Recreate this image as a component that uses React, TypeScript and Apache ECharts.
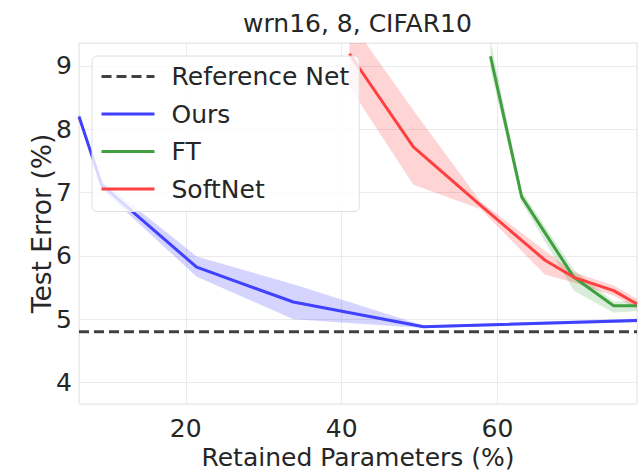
import React, { useEffect, useRef } from "react";
import * as echarts from "echarts";

// ---- data ----
const titleText = "wrn16, 8, CIFAR10";
const xAxisName = "Retained Parameters (%)";
const yAxisName = "Test Error (%)";
const legendNames = ["Reference Net", "Ours", "FT", "SoftNet"];

const refError = 4.8;

const oursX = [6.3, 9.2, 21.4, 33.8, 50.5, 77.9];
const oursY = [8.2, 7.12, 5.82, 5.27, 4.88, 4.98];
const oursLo = [8.15, 7.05, 5.67, 5.0, 4.86, 4.95];
const oursHi = [8.25, 7.19, 5.99, 5.55, 4.9, 5.01];

const ftX = [59.1, 63.1, 69.8, 74.9, 77.9];
const ftY = [9.15, 6.93, 5.66, 5.21, 5.21];
const ftLo = [8.95, 6.85, 5.45, 5.1, 5.13];
const ftHi = [9.4, 7.02, 5.78, 5.28, 5.29];

const softX = [41.0, 49.2, 57.8, 66.1, 69.8, 74.9, 77.9];
const softY = [9.19, 7.72, 6.8, 5.93, 5.66, 5.45, 5.24];
const softLo = [8.67, 7.12, 6.74, 5.7, 5.58, 5.37, 5.17];
const softHi = [9.72, 8.3, 6.86, 6.08, 5.74, 5.53, 5.32];

const yMin = 3.66;
const yMax = 9.36;

// ---- styling ----
const FONT = "DejaVu Sans";
const TXT = "#262626";
const BLUE = "rgba(64,64,255,1)";
const GREEN = "rgba(64,160,64,1)";
const RED = "rgba(255,64,64,1)";
const REF = "#404040";

function pairs(xs: number[], ys: number[]) {
  return xs.map((x, i) => [x, ys[i]]);
}

function band(key: string, xs: number[], lo: number[], hi: number[], fill: string) {
  const rows = xs.map((x, i) => [x, lo[i], hi[i]]);
  return {
    type: "custom",
    name: key + "-band",
    data: rows,
    silent: true,
    z: 1,
    encode: { x: 0, y: [1, 2] },
    renderItem: (params: any, api: any) => {
      if (params.dataIndex !== 0) return null;
      const upper = rows.map((r) => api.coord([r[0], r[2]]));
      const lower = rows.map((r) => api.coord([r[0], r[1]])).reverse();
      const cs = params.coordSys;
      return {
        type: "polygon",
        shape: { points: upper.concat(lower) },
        style: { fill: fill, stroke: "none" },
        clipPath: {
          type: "rect",
          shape: { x: cs.x, y: cs.y, width: cs.width, height: cs.height },
        },
      };
    },
  };
}

function line(name: string, xs: number[], ys: number[], color: string, extra: any = {}) {
  return {
    type: "line",
    name,
    data: pairs(xs, ys),
    symbol: "none",
    lineStyle: { color, width: 3, ...extra },
    itemStyle: { color },
    z: 3,
  };
}

export default function App() {
  const ref = useRef<HTMLDivElement>(null);
  useEffect(() => {
    if (!ref.current) return;
    const chart = echarts.init(ref.current, undefined, { renderer: "svg" });
    const allX = [...oursX, ...ftX, ...softX];
    const xMin = Math.min(...allX);
    const xMax = Math.max(...allX);
    chart.setOption({
      animation: false,
      backgroundColor: "#ffffff",
      textStyle: { fontFamily: FONT, color: TXT },
      title: {
        text: titleText,
        left: 243,
        top: 11,
        padding: 0,
        textStyle: { fontFamily: FONT, fontSize: 25, fontWeight: "normal", color: TXT },
      },
      grid: {
        left: 79,
        right: 4,
        top: 43,
        bottom: 69,
        show: true,
        borderColor: "#e4e4e4",
        borderWidth: 1,
        containLabel: false,
        outerBoundsMode: "none",
      },
      legend: {
        data: legendNames,
        orient: "vertical",
        left: 92,
        top: 56,
        itemWidth: 53,
        itemHeight: 24,
        itemGap: 12.5,
        padding: [8, 10, 10, 8],
        backgroundColor: "rgba(255,255,255,0.8)",
        borderColor: "#dedede",
        borderWidth: 1,
        borderRadius: 5,
        lineStyle: { width: 3 },
        itemStyle: { opacity: 0 },
        textStyle: { fontFamily: FONT, fontSize: 25, color: TXT, padding: [0, 0, 0, 12] },
        selectedMode: false,
      },
      xAxis: {
        type: "value",
        min: xMin,
        max: xMax,
        minInterval: 20,
        maxInterval: 20,
        name: xAxisName,
        nameLocation: "middle",
        nameGap: 41,
        nameMoveOverlap: false,
        nameTextStyle: { fontFamily: FONT, fontSize: 25, color: TXT },
        axisLine: { show: false },
        axisTick: { show: false },
        axisLabel: {
          fontFamily: FONT,
          fontSize: 25,
          color: TXT,
          margin: 12,
          showMinLabel: false,
          showMaxLabel: false,
        },
        splitLine: { show: true, lineStyle: { color: "#ebebeb", width: 1 } },
      },
      yAxis: {
        type: "value",
        min: yMin,
        max: yMax,
        minInterval: 1,
        maxInterval: 1,
        name: yAxisName,
        nameLocation: "middle",
        nameGap: 24,
        nameMoveOverlap: false,
        nameTextStyle: { fontFamily: FONT, fontSize: 26.5, color: TXT },
        axisLine: { show: false },
        axisTick: { show: false },
        axisLabel: {
          fontFamily: FONT,
          fontSize: 25,
          color: TXT,
          margin: 7,
          showMinLabel: false,
          showMaxLabel: false,
        },
        splitLine: { show: true, lineStyle: { color: "#ebebeb", width: 1 } },
      },
      series: [
        band("ours", oursX, oursLo, oursHi, "rgba(0,0,255,0.17)"),
        band("ft", ftX, ftLo, ftHi, "rgba(0,128,0,0.15)"),
        band("soft", softX, softLo, softHi, "rgba(255,0,0,0.17)"),
        line("Reference Net", [xMin, xMax], [refError, refError], REF, { type: [10, 5] }),
        line("Ours", oursX, oursY, BLUE),
        line("FT", ftX, ftY, GREEN),
        line("SoftNet", softX, softY, RED),
      ],
    });
    return () => chart.dispose();
  }, []);
  return (
    <div
      ref={ref}
      style={{ position: "absolute", left: 0, top: 0, width: 641, height: 473 }}
    />
  );
}
